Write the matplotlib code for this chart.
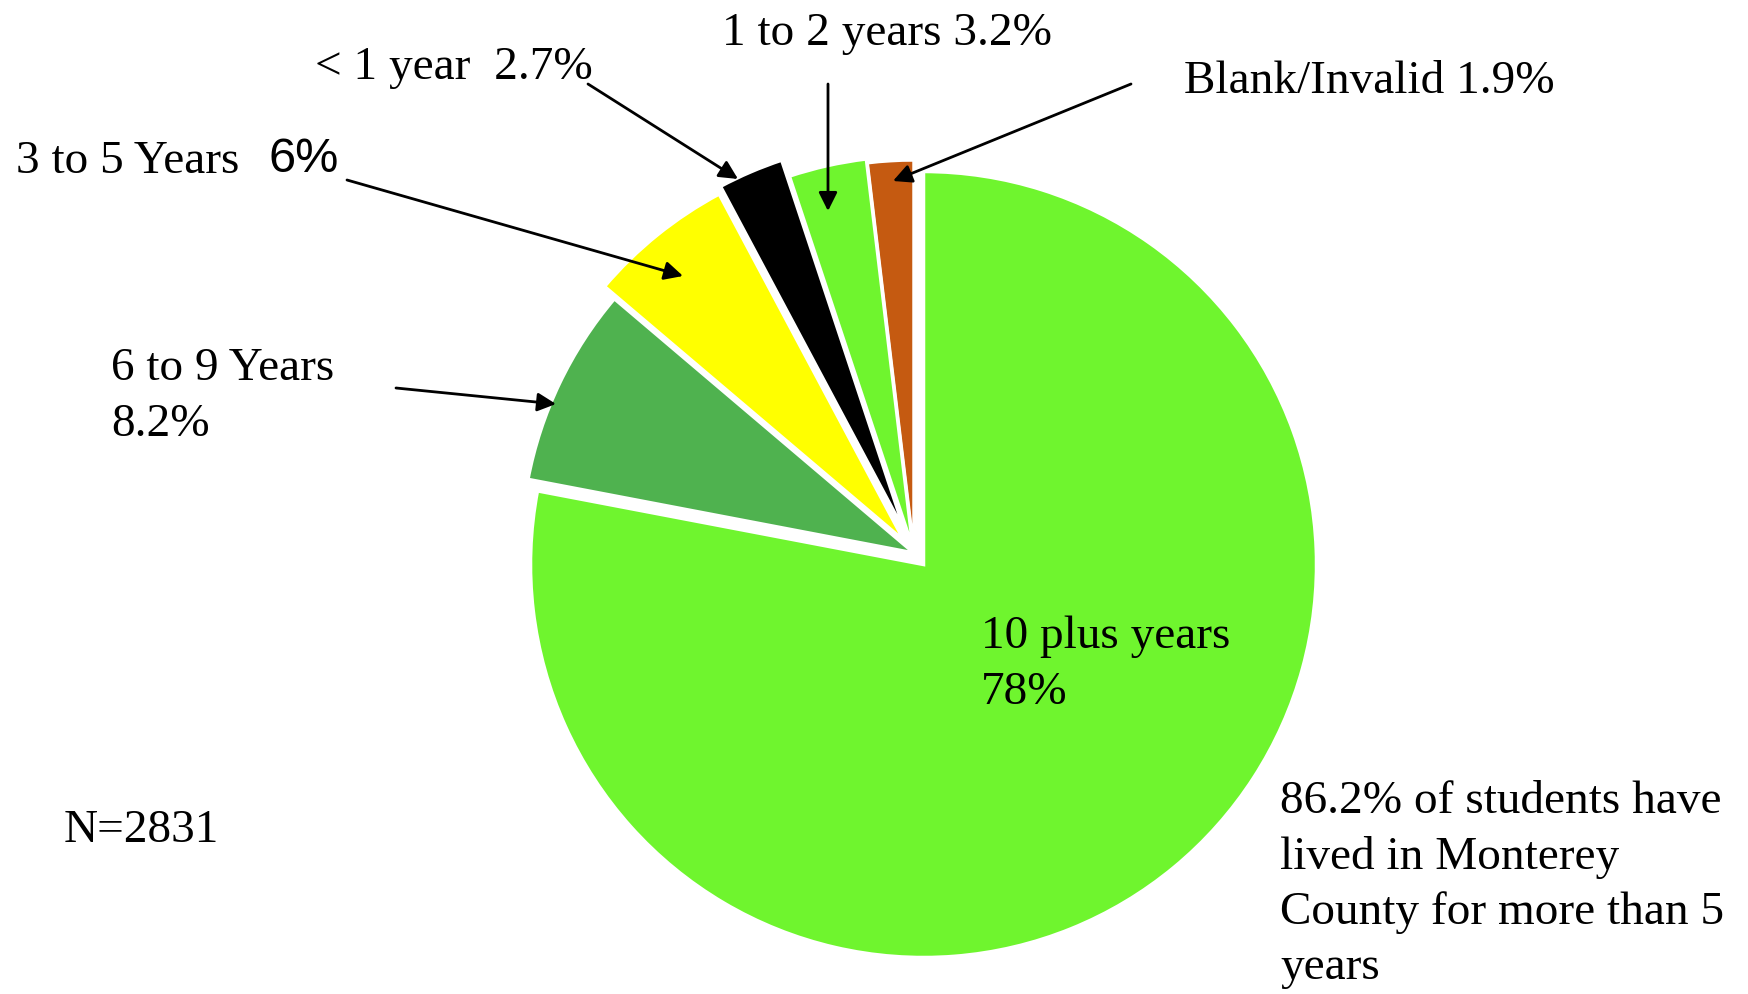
import matplotlib
matplotlib.use("Agg")
import matplotlib.pyplot as plt

# slices, counter-clockwise from the top
labels = ["Blank/Invalid", "1 to 2 years", "< 1 year", "3 to 5 Years", "6 to 9 Years", "10 plus years"]
shares = [1.9, 3.2, 2.7, 6.0, 8.2, 78.0]
colors = ["#C55A11", "#6FF52E", "#000000", "#FFFF00", "#4FB24F", "#6FF52E"]
explode = [0.0, 0.01, 0.055, 0.04, 0.0, 0.038]  # fraction of radius

N = 2831
note = "86.2% of students have\nlived in Monterey\nCounty for more than 5\nyears"

W, H = 1748, 995
R = 393
fig = plt.figure(figsize=(W / 100, H / 100), dpi=100)
ax = fig.add_axes([0, 0, 1, 1])


def y(v):
    # picture rows -> axes y
    return H - v


# pie's explode is in data units, so scale by the radius
ax.pie(shares, colors=colors, explode=[e * R for e in explode], startangle=90,
       counterclock=True, center=(914, y(554)), radius=R, frame=True,
       wedgeprops=dict(edgecolor="white", linewidth=2.5))
ax.set_xlim(0, W)
ax.set_ylim(0, H)
ax.axis("off")

serif = dict(family="Liberation Serif", fontsize=34, color="black")
arrow = dict(arrowstyle="-|>", color="black", lw=2, mutation_scale=28, shrinkA=0, shrinkB=0)

ax.text(722, y(34), f"{labels[1]} {shares[1]}%", va="center", ha="left", **serif)
ax.text(315, y(68), f"{labels[2]}  {shares[2]}%", va="center", ha="left", **serif)
ax.text(1184, y(82), f"{labels[0]} {shares[0]}%", va="center", ha="left", **serif)
ax.text(16, y(162), f"{labels[3]}  ", va="center", ha="left", **serif)
ax.text(268, y(160), f"{shares[3]:.0f}%", va="center", ha="left",
        family="Liberation Sans", fontsize=35, color="black")
ax.text(111, y(397), f"{labels[4]}\n{shares[4]}%", va="center", ha="left", linespacing=1.4, **serif)
ax.text(981, y(665), f"{labels[5]}\n{shares[5]:.0f}%", va="center", ha="left", linespacing=1.4, **serif)
ax.text(64, y(831), f"N={N}", va="center", ha="left", **serif)
ax.text(1280, y(885), note, va="center", ha="left", linespacing=1.38, **serif)

ax.annotate("", xy=(738, y(180)), xytext=(588, y(85)), arrowprops=arrow)
ax.annotate("", xy=(828, y(212)), xytext=(828, y(85)), arrowprops=arrow)
ax.annotate("", xy=(893, y(182)), xytext=(1131, y(85)), arrowprops=arrow)
ax.annotate("", xy=(683, y(277)), xytext=(347, y(181)), arrowprops=arrow)
ax.annotate("", xy=(556, y(405)), xytext=(396, y(389)), arrowprops=arrow)

fig.savefig("out.png", dpi=100, facecolor="white")
